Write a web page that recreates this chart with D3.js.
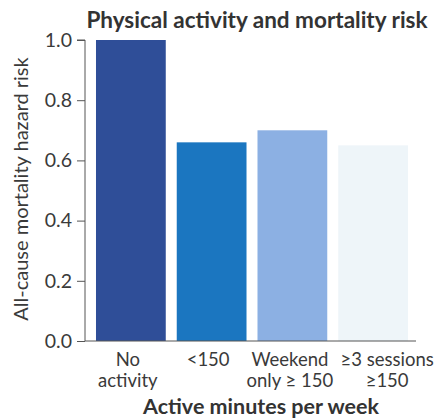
<!DOCTYPE html>
<html><head><meta charset="utf-8">
<script src="https://cdn.jsdelivr.net/npm/d3@7"></script>
<style>body{margin:0;background:#fff}svg{display:block}text{font-family:Lato,"Open Sans",sans-serif}</style>
</head><body>
<svg id="c" width="437" height="419"></svg>
<script>
const categories = [["No","activity"],["<150",""],["Weekend","only \u2265 150"],["\u22653 sessions","\u2265150"]];
const values = [1.0, 0.66, 0.70, 0.65];
const colors = ["#2f4e98", "#1b76c0", "#8cb0e3", "#eef5f9"];
const yTicks = [0, 0.2, 0.4, 0.6, 0.8, 1.0];
const labelShift = [-3, -3.5, -2.5, 14];

const svg = d3.select("#c");
const x = d3.scaleBand().domain(d3.range(categories.length)).range([90.5, 413.5]).paddingInner(0.136).paddingOuter(0.068);
const y = d3.scaleLinear().domain([0, 1]).range([341, 40]);
const txt = "#3a3a3a";

svg.append("g").selectAll("rect").data(values).join("rect")
  .attr("x", (d,i) => x(i)).attr("width", x.bandwidth())
  .attr("y", d => y(d)).attr("height", d => y(0) - y(d))
  .attr("fill", (d,i) => colors[i]);

const ya = svg.append("g").attr("transform", "translate(85,0)")
  .call(d3.axisLeft(y).tickValues(yTicks).tickFormat(d3.format(".1f")).tickSize(8).tickPadding(5));
ya.select(".domain").attr("stroke", "#555").attr("d", `M-8,${y(1)}H0V${y(0)}`);
ya.selectAll(".tick line").attr("stroke", "#555");
ya.selectAll(".tick text").attr("fill", txt).style("font-size", "19.5px").style("font-family", "Lato");

svg.append("line").attr("x1", 85).attr("x2", 416).attr("y1", y(0)).attr("y2", y(0)).attr("stroke", "#555");

const xl = svg.append("g");
categories.forEach((c, i) => {
  const cx = x(i) + x.bandwidth() / 2 + labelShift[i];
  c.forEach((line, j) => {
    if (!line) return;
    xl.append("text").attr("x", cx).attr("y", 365.5 + j * 21.5).attr("text-anchor", "middle")
      .attr("fill", txt).style("font-size", "18.5px").text(line);
  });
});

svg.append("text").attr("x", 257).attr("y", 28).attr("text-anchor", "middle")
  .attr("fill", "#333").style("font-size", "22.5px").style("font-weight", "bold")
  .text("Physical activity and mortality risk");

svg.append("text").attr("x", 261).attr("y", 413.5).attr("text-anchor", "middle")
  .attr("fill", "#333").style("font-size", "21.5px").style("font-weight", "bold")
  .text("Active minutes per week");

svg.append("text").attr("transform", "translate(28,189) rotate(-90)").attr("text-anchor", "middle")
  .attr("fill", txt).style("font-size", "20px")
  .text("All-cause mortality hazard risk");
</script>
</body></html>
